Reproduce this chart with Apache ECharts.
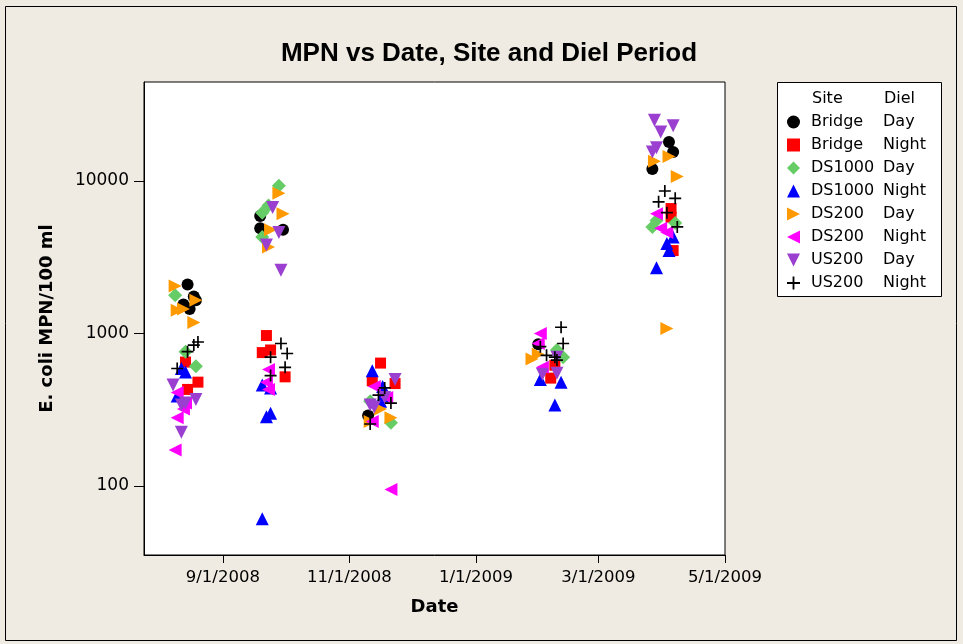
<!DOCTYPE html>
<html>
<head>
<meta charset="utf-8">
<script src="https://cdn.jsdelivr.net/npm/echarts@6/dist/echarts.min.js"></script>
<style>
  html, body { margin: 0; padding: 0; background: #efebe2; }
  #chart { width: 963px; height: 644px; }
</style>
</head>
<body>
<div id="chart"></div>
<script>
// sample dates are jittered, as in the original plot
const bridgeDay = [
  ['2008-08-15', 2100], ['2008-08-18', 1750], ['2008-08-13', 1550], ['2008-08-16', 1450], ['2008-08-19', 1650],
  ['2008-09-19', 5900], ['2008-09-19', 4900], ['2008-09-30', 4800],
  ['2008-11-10', 290],
  ['2009-01-31', 850],
  ['2009-04-04', 18000], ['2009-04-06', 15500], ['2009-03-27', 12000]
];
const bridgeNight = [
  ['2008-08-14', 650], ['2008-08-20', 480], ['2008-08-15', 430],
  ['2008-09-22', 970], ['2008-09-20', 750], ['2008-09-24', 780], ['2008-10-01', 520],
  ['2008-11-16', 640], ['2008-11-12', 490], ['2008-11-23', 470],
  ['2009-02-06', 510], ['2009-02-08', 620],
  ['2009-04-05', 6600], ['2009-04-05', 5800], ['2009-04-06', 3500]
];
const ds1000Day = [
  ['2008-08-09', 1780], ['2008-08-14', 760], ['2008-08-19', 610],
  ['2008-09-28', 9300], ['2008-09-23', 6900], ['2008-09-20', 6200], ['2008-09-20', 4300],
  ['2008-11-21', 260], ['2008-11-11', 360],
  ['2009-02-09', 780], ['2009-02-12', 700],
  ['2009-03-27', 5000], ['2009-04-07', 5300], ['2009-03-29', 5500]
];
const ds1000Night = [
  ['2008-08-12', 590], ['2008-08-14', 560], ['2008-08-10', 390],
  ['2008-09-20', 460], ['2008-09-24', 440], ['2008-09-24', 300], ['2008-09-22', 285], ['2008-09-20', 61],
  ['2008-11-12', 570], ['2008-11-17', 450], ['2008-11-17', 390], ['2008-11-16', 360],
  ['2009-02-01', 500], ['2009-02-11', 480], ['2009-02-08', 340],
  ['2009-04-06', 4300], ['2009-04-03', 3900], ['2009-04-04', 3500], ['2009-03-29', 2700]
];
const ds200Day = [
  ['2008-08-09', 2050], ['2008-08-10', 1420], ['2008-08-13', 1450], ['2008-08-19', 1650], ['2008-08-18', 1180],
  ['2008-09-28', 8300], ['2008-09-30', 6100], ['2008-09-24', 4800], ['2008-09-23', 3700],
  ['2008-11-16', 320], ['2008-11-21', 280], ['2008-11-11', 265],
  ['2009-01-31', 730], ['2009-01-28', 680],
  ['2009-03-28', 13500], ['2009-04-04', 14500], ['2009-04-08', 10700], ['2009-04-03', 1080]
];
const ds200Night = [
  ['2008-08-10', 410], ['2008-08-14', 350], ['2008-08-10', 280], ['2008-08-09', 172], ['2008-08-13', 320],
  ['2008-09-23', 580], ['2008-09-22', 480], ['2008-09-23', 430],
  ['2008-11-13', 450], ['2008-11-19', 380], ['2008-11-12', 265], ['2008-11-21', 95],
  ['2009-02-01', 1000], ['2009-01-31', 860], ['2009-02-02', 600],
  ['2009-03-29', 6100], ['2009-03-31', 4900], ['2009-04-03', 4600]
];
const us200Day = [
  ['2008-08-08', 460], ['2008-08-12', 340], ['2008-08-19', 370], ['2008-08-12', 225], ['2008-08-14', 350],
  ['2008-09-25', 6700], ['2008-09-28', 4600], ['2008-09-22', 3800], ['2008-09-29', 2600],
  ['2008-11-23', 500], ['2008-11-18', 380], ['2008-11-11', 340], ['2008-11-13', 330],
  ['2009-02-09', 700], ['2009-02-02', 540], ['2009-02-09', 550],
  ['2009-03-28', 25000], ['2009-04-06', 23000], ['2009-03-31', 21000], ['2009-03-29', 16500], ['2009-03-27', 15500]
];
const us200Night = [
  ['2008-08-20', 880], ['2008-08-18', 840], ['2008-08-15', 760], ['2008-08-10', 590],
  ['2008-09-29', 860], ['2008-10-02', 740], ['2008-09-24', 700], ['2008-10-01', 600], ['2008-09-24', 530],
  ['2008-11-18', 440], ['2008-11-15', 395], ['2008-11-21', 350], ['2008-11-11', 255],
  ['2009-02-11', 1100], ['2009-02-12', 860], ['2009-02-01', 820], ['2009-02-04', 720], ['2009-02-08', 700], ['2009-02-09', 670],
  ['2009-04-02', 8600], ['2009-03-30', 7300], ['2009-04-07', 7700], ['2009-04-03', 6200], ['2009-04-08', 5000]
];

const xTicks = ['2008-09-01', '2008-11-01', '2009-01-01', '2009-03-01', '2009-05-01'];
const yTicks = [100, 1000, 10000];

(function () {
  var myChart = echarts.init(document.getElementById('chart'));

  function toTime(s) {
    var p = s.split('-');
    return new Date(+p[0], +p[1] - 1, +p[2]).getTime();
  }
  const xTickTimes = xTicks.map(toTime);

  const seriesList = [
    { name: 'Bridge Day', data: bridgeDay, color: '#000000', symbol: 'circle', size: 12 },
    { name: 'Bridge Night', data: bridgeNight, color: '#ff0000', symbol: 'rect', size: 11 },
    { name: 'DS1000 Day', data: ds1000Day, color: '#66cc66', symbol: 'diamond', size: 14 },
    { name: 'DS1000 Night', data: ds1000Night, color: '#0000ff', symbol: 'triangle', size: 13 },
    { name: 'DS200 Day', data: ds200Day, color: '#ff9900', symbol: 'path://M0,0L10,5L0,10Z', size: 13 },
    { name: 'DS200 Night', data: ds200Night, color: '#ff00ff', symbol: 'path://M10,0L0,5L10,10Z', size: 13 },
    { name: 'US200 Day', data: us200Day, color: '#9a3fcf', symbol: 'path://M0,0L10,0L5,10Z', size: 13 },
    { name: 'US200 Night', data: us200Night, color: '#000000', symbol: 'path://M4.3,0H5.7V10H4.3ZM0,4.3H10V5.7H0Z', size: 12 }
  ];

  const option = {
    backgroundColor: '#efebe2',
    animation: false,
    textStyle: { fontFamily: 'DejaVu Sans' },
    title: {
      text: 'MPN vs Date, Site and Diel Period',
      left: 484,
      textAlign: 'center',
      top: 36,
      textStyle: { fontFamily: 'Liberation Sans', fontWeight: 'bold', fontSize: 26, color: '#000' }
    },
    grid: {
      left: 144,
      right: 238,
      top: 82,
      bottom: 89,
      show: true,
      backgroundColor: '#ffffff',
      borderColor: '#000',
      borderWidth: 1
    },
    legend: {
      orient: 'vertical',
      left: 787,
      top: 113,
      padding: 0,
      itemWidth: 13,
      itemHeight: 13,
      itemGap: 5,
      textStyle: {
        color: '#000',
        fontSize: 16,
        lineHeight: 18,
        rich: {
          a: { width: 72, fontSize: 16, padding: [0, 0, 0, 6], color: '#000' },
          b: { fontSize: 16, color: '#000' }
        }
      },
      formatter: function (name) {
        const parts = name.split(' ');
        return '{a|' + parts[0] + '}{b|' + parts[1] + '}';
      },
      data: seriesList.map(function (s) { return s.name; })
    },
    graphic: [
      { type: 'rect', shape: { x: 5.5, y: 6.5, width: 951, height: 634 }, style: { fill: 'none', stroke: '#000', lineWidth: 1 }, silent: true },
      { type: 'rect', shape: { x: 777.5, y: 82.5, width: 164, height: 214 }, style: { fill: '#ffffff', stroke: '#000', lineWidth: 1 }, silent: true, z: -1 },
      { type: 'text', left: 812, top: 91, style: { text: 'Site', font: '16px DejaVu Sans', fill: '#000' } },
      { type: 'text', left: 884, top: 91, style: { text: 'Diel', font: '16px DejaVu Sans', fill: '#000' } }
    ],
    xAxis: {
      type: 'value',
      min: toTime('2008-07-25'),
      max: toTime('2009-05-01'),
      name: 'Date',
      nameLocation: 'middle',
      nameGap: 43,
      nameTextStyle: { fontWeight: 'bold', fontSize: 18, color: '#000' },
      axisLine: { show: true, lineStyle: { color: '#000' } },
      axisTick: { show: true, length: 8, customValues: xTickTimes, lineStyle: { color: '#000' } },
      axisLabel: {
        customValues: xTickTimes,
        margin: 14,
        fontSize: 16.5,
        color: '#000',
        hideOverlap: false,
        formatter: function (v) {
          const d = new Date(v);
          return (d.getMonth() + 1) + '/' + d.getDate() + '/' + d.getFullYear();
        }
      },
      splitLine: { show: false }
    },
    yAxis: {
      type: 'log',
      logBase: 10,
      min: 35.3,
      max: 44600,
      name: 'E. coli MPN/100 ml',
      nameLocation: 'middle',
      nameGap: 88,
      nameTextStyle: { fontWeight: 'bold', fontSize: 18, color: '#000' },
      axisLine: { show: true, lineStyle: { color: '#000' } },
      axisTick: { show: true, length: 10, customValues: yTicks, lineStyle: { color: '#000' } },
      axisLabel: {
        customValues: yTicks,
        margin: 15,
        fontSize: 17,
        color: '#000',
        formatter: function (v) { return String(Math.round(v)); }
      },
      splitLine: { show: false },
      minorSplitLine: { show: false }
    },
    series: seriesList.map(function (s) {
      return {
        name: s.name,
        type: 'scatter',
        data: s.data.map(function (p) { return [toTime(p[0]), p[1]]; }),
        symbol: s.symbol,
        symbolSize: s.size,
        itemStyle: { color: s.color, opacity: 1 }
      };
    })
  };

  myChart.setOption(option, true);

  window.onresize = function () {
    myChart.resize();
  };
})();
</script>
</body>
</html>
